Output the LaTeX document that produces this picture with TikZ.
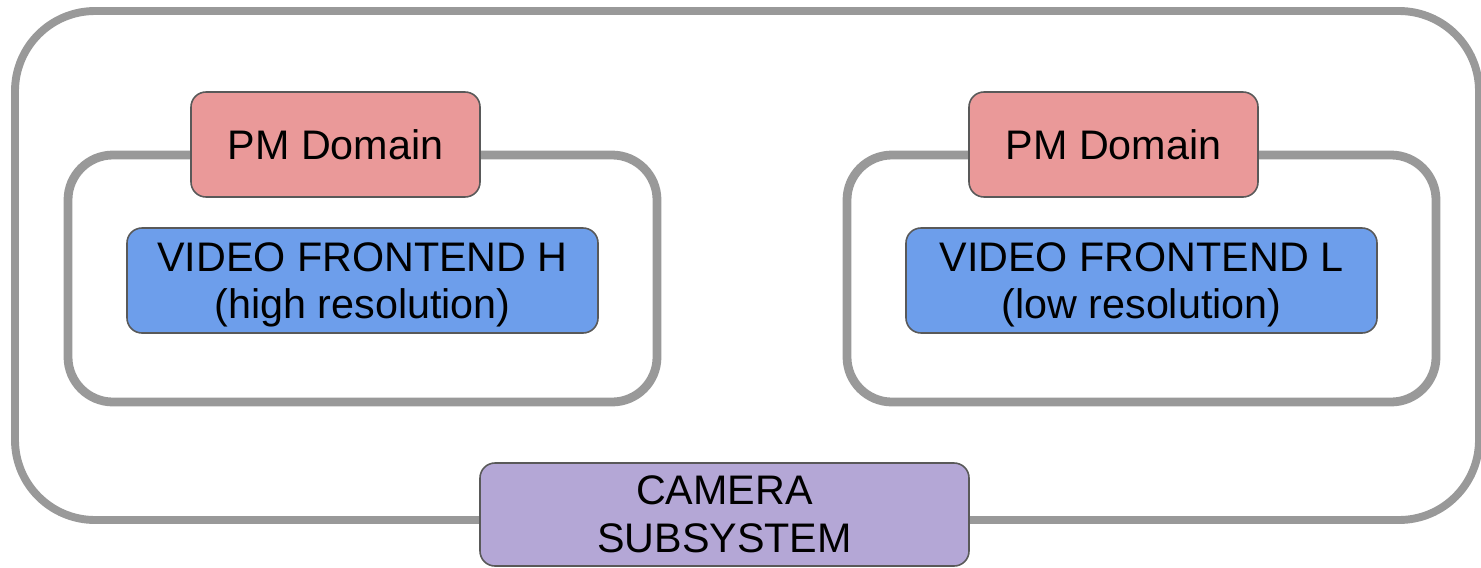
\documentclass[tikz,border=0pt]{standalone}
\usepackage{fontspec}
\setmainfont{Liberation Sans}
\usepackage{tikz}
\definecolor{pmred}{HTML}{EA9999}
\definecolor{vfblue}{HTML}{6D9EEB}
\definecolor{campurple}{HTML}{B4A7D6}
\definecolor{framegray}{HTML}{999999}
\definecolor{edgegray}{HTML}{595959}

\begin{document}
\begin{tikzpicture}[
  every node/.style={font=\fontsize{23.5}{26.7}\selectfont, align=center, inner sep=0pt},
  frame/.style={draw=framegray, rounded corners=0.9cm, line width=5pt, fill=white},
  box/.style={draw=edgegray, line width=0.9pt, rounded corners=0.3cm, minimum height=2.1cm}]
\useasboundingbox (0,0) rectangle (29.62,-11.34);

% --- outer frame ---
\node[frame, rounded corners=1.6cm, line width=4.5pt, minimum width=29.28cm, minimum height=10.18cm] (subsys) at (14.94,-5.31) {};

% --- frontend frames ---
\node[frame, minimum width=11.78cm, minimum height=4.94cm] (frameH) at (7.25,-5.57) {};
\node[frame, minimum width=11.78cm, minimum height=4.94cm] (frameL) at (22.83,-5.57) {};

% --- PM domains ---
\node[box, fill=pmred, minimum width=5.78cm] (pmH) at (6.71,-2.89) {PM Domain};
\node[box, fill=pmred, minimum width=5.78cm] (pmL) at (22.27,-2.89) {PM Domain};

% --- video frontends ---
\node[box, fill=vfblue, minimum width=9.42cm, text depth=0pt] (vfeH) at (7.25,-5.61) {VIDEO FRONTEND H\\(high resolution)};
\node[box, fill=vfblue, minimum width=9.42cm, text depth=0pt] (vfeL) at (22.83,-5.61) {VIDEO FRONTEND L\\(low resolution)};

% --- label of the subsystem ---
\node[box, fill=campurple, minimum width=9.78cm, minimum height=2.06cm] (cam) at (14.49,-10.29) {CAMERA\\[0.5pt]SUBSYSTEM};
\end{tikzpicture}
\end{document}
